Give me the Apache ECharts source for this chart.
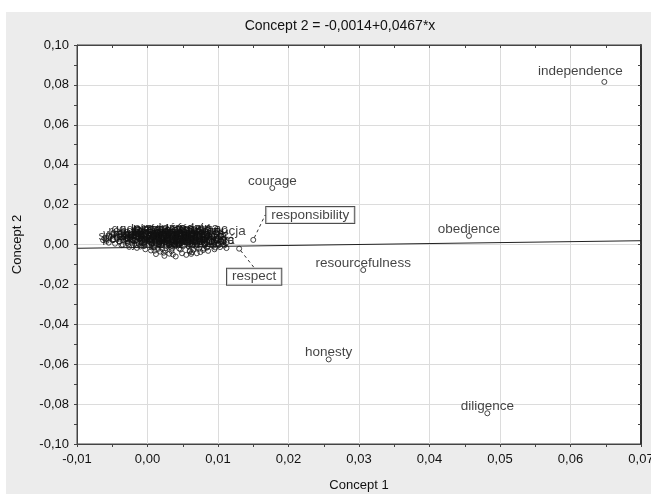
<!DOCTYPE html>
<html><head><meta charset="utf-8">
<script src="https://cdn.jsdelivr.net/npm/echarts@6/dist/echarts.min.js"></script>
<style>html,body{margin:0;padding:0;background:#fff}#c{width:651px;height:494px}</style>
</head><body><div id="c"></div>
<script>
// ---- data ----
const chartTitle = 'Concept 2 = -0,0014+0,0467*x';
const xName = 'Concept 1';
const yName = 'Concept 2';
const xTicks = [-0.01, 0.00, 0.01, 0.02, 0.03, 0.04, 0.05, 0.06, 0.07];
const yTicks = [-0.10, -0.08, -0.06, -0.04, -0.02, 0.00, 0.02, 0.04, 0.06, 0.08, 0.10];

const pointNames = ['independence','courage','responsibility','respect','resourcefulness','obedience','honesty','diligence'];
const pointX = [0.0648, 0.0177, 0.0150, 0.0130, 0.0306, 0.0456, 0.0257, 0.0482];
const pointY = [0.0815, 0.0283, 0.0023, -0.0021, -0.0128, 0.0043, -0.0576, -0.0846];

// fitted line endpoints (Concept 2 = -0,0014 + 0,0467*x) across the axis range
const fitLine = [[-0.01, -0.0019], [0.07, 0.0019]];

// dense cluster near the origin (unlabelled points)
const clusterPoints = [
 [-0.0063,0.0022],[-0.0061,0.0031],[-0.0058,0.0018],[-0.0055,0.0009],[-0.0052,0.0039],[-0.0049,0.0024],
 [-0.0046,0.0004],[-0.0043,0.0033],[-0.0040,0.0015],[-0.0037,-0.0003],[-0.0034,0.0041],[-0.0031,0.0026],
 [-0.0028,0.0008],[-0.0026,-0.0012],[-0.0023,0.0047],[-0.0020,0.0019],[-0.0018,0.0002],[-0.0015,-0.0017],
 [-0.0012,0.0055],[-0.0010,0.0033],[-0.0008,0.0011],[-0.0005,-0.0008],[-0.0003,-0.0024],[0.0000,0.0061],
 [0.0002,0.0044],[0.0004,0.0022],[0.0006,0.0003],[0.0008,-0.0014],[0.0010,-0.0031],[0.0013,0.0052],
 [0.0015,0.0036],[0.0017,0.0014],[0.0019,-0.0005],[0.0021,-0.0022],[0.0023,-0.0041],[0.0026,0.0066],
 [0.0028,0.0029],[0.0030,0.0007],[0.0032,-0.0012],[0.0034,-0.0033],[0.0036,-0.0050],[0.0039,0.0057],
 [0.0041,0.0040],[0.0043,0.0019],[0.0045,-0.0002],[0.0047,-0.0025],[0.0049,-0.0044],[0.0052,0.0063],
 [0.0054,0.0031],[0.0056,0.0010],[0.0058,-0.0009],[0.0060,-0.0030],[0.0062,-0.0047],[0.0065,0.0054],
 [0.0067,0.0037],[0.0069,0.0016],[0.0071,-0.0004],[0.0073,-0.0021],[0.0075,-0.0038],[0.0078,0.0045],
 [0.0080,0.0024],[0.0082,0.0005],[0.0084,-0.0016],[0.0086,-0.0032],[0.0089,0.0034],[0.0091,0.0013],
 [0.0093,-0.0007],[0.0095,-0.0024],[0.0098,0.0020],[0.0100,0.0002],[0.0103,-0.0013],[0.0106,0.0009],
 [0.0109,-0.0005],[0.0112,-0.0018],[0.0024,-0.0057],[0.0040,-0.0060],[0.0055,-0.0052],[0.0070,-0.0044],
 [0.0012,-0.0048],[0.0018,-0.0036],[0.0063,-0.0039],[0.0079,-0.0028],[0.0096,-0.0015],[0.0031,-0.0046]
];

// labelled cluster points (Polish labels overlapping into a dark blob)
const clusterNames = ['wiara','pokora','godność','odwaga','sprawiedliwość','przyjaźń','szacunek','uczciwość','honor',
  'odpowiedzialność','cierpliwość','wolność','posłuszeństwo','zaradność','pracowitość','rodzina','ambicja','tradycja',
  'edukacja','miłość','praca','zdrowie','kultura','lojalność','skromność','życzliwość','dyscyplina','grzeczność',
  'samodzielność','kreatywność','ciekawość','pomoc','religia','ojczyzna','rzetelność','wytrwałość','szczerość',
  'otwartość','dobroć','mądrość','rozwaga','spokój','ambitność','wiedza','nadzieja','niezależność','tolerancja'];
const clusterLX = [-0.0040,-0.0035,-0.0015,-0.0020,-0.0005,0.0015,0.0020,0.0010,0.0025,
  0.0040,0.0045,0.0055,0.0050,0.0065,0.0065,0.0070,0.0075,0.0080,
  0.0085,0.0005,0.0060,0.0030,-0.0010,0.0050,0.0025,0.0060,0.0035,0.0015,
  0.0045,0.0070,-0.0010,0.0085,-0.0030,0.0005,0.0020,0.0055,0.0010,
  0.0040,0.0075,0.0030,-0.0005,0.0065,0.0045,0.0080,0.0015,0.0035,0.0098];
const clusterLY = [0.0015,-0.0002,0.0040,0.0020,0.0005,0.0045,0.0025,-0.0015,-0.0030,
  0.0010,-0.0020,0.0035,-0.0010,0.0015,-0.0025,0.0045,0.0020,0.0005,
  -0.0012,0.0030,0.0000,-0.0005,0.0010,0.0025,0.0010,-0.0035,-0.0020,0.0000,
  0.0005,-0.0015,-0.0010,0.0040,0.0030,-0.0030,0.0035,0.0020,0.0015,
  -0.0008,0.0030,0.0040,0.0025,-0.0005,0.0015,-0.0020,-0.0022,0.0042,0.0030];

// ---- styling (kept apart from data) ----
const FONT = '"Liberation Sans", Arial, sans-serif';
const TXT = '#111';
const labelOverrides = {
  independence: { dx: -24, dy: -11 },
  responsibility: { boxed: true, dx: 57, dy: -25 },
  respect: { boxed: true, dx: 15, dy: 28 }
};
function fmt(v){ if (Math.abs(v) < 1e-9) v = 0; return v.toFixed(2).replace('.', ','); }

const namedData = pointNames.map((n, i) => {
  const o = labelOverrides[n] || {};
  const item = { name: n, value: [pointX[i], pointY[i]] };
  if (o.boxed) {
    item.label = { backgroundColor: '#fff', borderColor: '#222', borderWidth: 1, padding: [1, 5] };
    item.labelLine = { show: true, lineStyle: { type: [3, 3], color: '#333', width: 1 } };
  }
  return item;
});
const clusterLabelData = clusterNames.map((n, i) => ({ name: n, value: [clusterLX[i], clusterLY[i]] }));

const symStyle = { color: 'rgba(0,0,0,0)', borderColor: '#1a1a1a', borderWidth: 1 };
const baseLabel = { show: true, position: 'inside', formatter: '{b}', color: TXT, fontSize: 13.5, fontFamily: FONT };

const chart = echarts.init(document.getElementById('c'), null, { renderer: 'canvas' });
chart.setOption({
  backgroundColor: '#ececec',
  animation: false,
  title: {
    text: chartTitle, left: 335, top: 14, textAlign: 'center',
    textStyle: { fontSize: 14, fontWeight: 'normal', color: TXT, fontFamily: FONT }
  },
  graphic: [
    { type: 'rect', shape: { x: 0, y: 0, width: 651, height: 12 }, style: { fill: '#fff' } },
    { type: 'rect', shape: { x: 0, y: 0, width: 6, height: 494 }, style: { fill: '#fff' } }
  ],
  grid: {
    left: 77, right: 10, top: 45, bottom: 50, containLabel: false, outerBoundsMode: 'none',
    show: true, backgroundColor: '#fff', borderColor: '#444', borderWidth: 1
  },
  xAxis: [{
    type: 'value', min: xTicks[0], max: xTicks[xTicks.length - 1], interval: 0.01,
    name: xName, nameLocation: 'middle', nameGap: 35,
    nameTextStyle: { fontSize: 13, color: TXT, fontFamily: FONT },
    axisLine: { show: true, onZero: false, lineStyle: { color: '#444' } },
    axisTick: { show: true, length: 3, lineStyle: { color: '#444' } },
    minorTick: { show: true, splitNumber: 2, length: 3, lineStyle: { color: '#444' } },
    splitLine: { show: true, lineStyle: { color: '#dcdcdc' } },
    axisLabel: { fontSize: 13, color: TXT, fontFamily: FONT, margin: 9, formatter: fmt, showMinLabel: true, showMaxLabel: true, hideOverlap: false }
  }, {
    type: 'value', position: 'top', min: xTicks[0], max: xTicks[xTicks.length - 1], interval: 0.01,
    axisLine: { show: true, onZero: false, lineStyle: { color: '#444' } },
    axisTick: { show: true, inside: true, length: 3, lineStyle: { color: '#444' } },
    minorTick: { show: true, splitNumber: 2, length: 3, lineStyle: { color: '#444' } },
    splitLine: { show: false }, axisLabel: { show: false }
  }],
  yAxis: [{
    type: 'value', min: yTicks[0], max: yTicks[yTicks.length - 1], interval: 0.02,
    name: yName, nameLocation: 'middle', nameGap: 53, nameRotate: 90,
    nameTextStyle: { fontSize: 13, color: TXT, fontFamily: FONT },
    axisLine: { show: true, onZero: false, lineStyle: { color: '#444' } },
    axisTick: { show: true, length: 3, lineStyle: { color: '#444' } },
    minorTick: { show: true, splitNumber: 2, length: 3, lineStyle: { color: '#444' } },
    splitLine: { show: true, lineStyle: { color: '#dcdcdc' } },
    axisLabel: { fontSize: 13, color: TXT, fontFamily: FONT, margin: 8, formatter: fmt }
  }, {
    type: 'value', position: 'right', min: yTicks[0], max: yTicks[yTicks.length - 1], interval: 0.02,
    axisLine: { show: true, onZero: false, lineStyle: { color: '#333', width: 2 } },
    axisTick: { show: true, inside: true, length: 3, lineStyle: { color: '#444' } },
    minorTick: { show: true, splitNumber: 2, length: 3, lineStyle: { color: '#444' } },
    splitLine: { show: false }, axisLabel: { show: false }
  }],
  series: [
    {
      type: 'line', data: fitLine, symbol: 'none', silent: true,
      lineStyle: { color: '#222', width: 1 }, z: 1
    },
    {
      type: 'scatter', data: clusterPoints, symbol: 'circle', symbolSize: 5,
      itemStyle: symStyle, z: 2
    },
    {
      type: 'scatter', data: clusterLabelData, symbol: 'circle', symbolSize: 5,
      itemStyle: symStyle, label: baseLabel, z: 3,
      labelLayout: function () { return { dy: -7 }; }
    },
    {
      type: 'scatter', data: namedData, symbol: 'circle', symbolSize: 5,
      itemStyle: symStyle, label: baseLabel, z: 4,
      labelLayout: function (p) {
        const o = labelOverrides[pointNames[p.dataIndex]];
        if (o) return { dx: o.dx, dy: o.dy };
        return { dy: -7 };
      }
    }
  ]
});
</script>
</body></html>
